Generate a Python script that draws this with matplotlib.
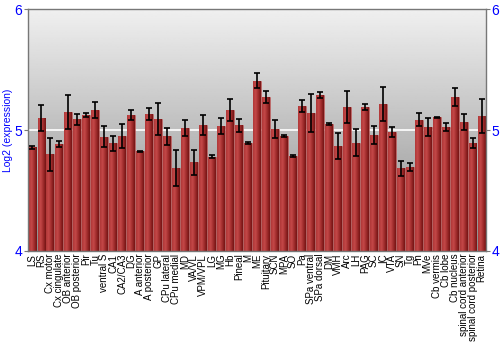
import matplotlib
matplotlib.use("Agg")
import matplotlib.pyplot as plt
import numpy as np

regions = ["LS", "RS", "Cx motor", "Cx cingulate", "OB anterior", "OB posterior",
           "Pir", "Tu", "ventral S", "CA1", "CA2/CA3", "DG", "A anterior",
           "A posterior", "GP", "CPu lateral", "CPu medial", "MD", "VA/VL",
           "VPM/VPL", "LG", "MG", "Hb", "Pineal", "M", "ME", "Pituitary", "SCN",
           "MPA", "SO", "Pa", "SPa ventral", "SPa dorsal", "DM", "VMH", "Arc",
           "LH", "PAG", "SC", "IC", "VTA", "SN", "Tg", "Pn", "MVe", "Cb vermis",
           "Cb lobe", "Cb nucleus", "spinal cord anterior",
           "spinal cord posterior", "Retina"]

expr = [4.856, 5.10, 4.80, 4.884, 5.152, 5.088, 5.127, 5.166, 4.945, 4.89,
        4.948, 5.124, 4.823, 5.133, 5.091, 4.95, 4.688, 5.014, 4.732, 5.041,
        4.779, 5.033, 5.166, 5.039, 4.892, 5.409, 5.273, 5.008, 4.948, 4.782,
        5.199, 5.138, 5.287, 5.05, 4.87, 5.19, 4.895, 5.193, 4.959, 5.218,
        4.983, 4.685, 4.693, 5.086, 5.028, 5.105, 5.022, 5.273, 5.066, 4.892,
        5.113]

err = [0.01, 0.105, 0.137, 0.022, 0.14, 0.048, 0.017, 0.066, 0.088, 0.064,
       0.098, 0.041, 0.003, 0.047, 0.131, 0.07, 0.149, 0.065, 0.1, 0.086,
       0.011, 0.07, 0.091, 0.055, 0.005, 0.065, 0.05, 0.073, 0.008, 0.008,
       0.046, 0.156, 0.026, 0.011, 0.108, 0.134, 0.113, 0.026, 0.075, 0.14,
       0.04, 0.062, 0.033, 0.054, 0.075, 0.003, 0.033, 0.077, 0.066, 0.039,
       0.141]

plt.rcParams['font.family'] = ['Liberation Sans', 'DejaVu Sans']

fig = plt.figure(figsize=(5, 3.5), dpi=100)
ax = fig.add_axes([0.056, 0.283, 0.916, 0.691])

n = len(regions)
x = np.arange(n)
ax.set_xlim(-0.5, n - 0.5)
ax.set_ylim(4, 6)

# gray gradient background
bg = np.linspace(0.94, 0.55, 256).reshape(-1, 1)
ax.imshow(bg, extent=(0, 1, 0, 1), transform=ax.transAxes, cmap='gray',
          vmin=0, vmax=1, aspect='auto', zorder=0)
ax.axhline(5, color='white', lw=1.2, zorder=1)

bars = ax.bar(x, np.array(expr) - 4, bottom=4, width=0.88, color='#a83232',
              edgecolor='#c06060', linewidth=0.4, zorder=2)

# horizontal red shading on each bar
shade = np.linspace(0, 1, 64).reshape(1, -1)
cmap = matplotlib.colors.LinearSegmentedColormap.from_list(
    'barred', ['#b03838', '#c44848', '#a02c2c', '#741414'])
for b in bars:
    im = ax.imshow(shade, extent=(b.get_x(), b.get_x() + b.get_width(), 4, b.get_height() + 4),
                   cmap=cmap, aspect='auto', zorder=2.5)
    im.set_clip_path(b)

ax.errorbar(x, expr, yerr=err, fmt='none', ecolor='black', elinewidth=1.2,
            capsize=2.5, capthick=1.2, zorder=3)

ax.set_xticks(x)
ax.set_xticklabels(regions, rotation=90, fontsize=7)
ax.tick_params(axis='x', length=0, pad=2)

ax.set_yticks([4, 5, 6])
ax.tick_params(axis='y', colors='#777777', labelcolor='blue', labelsize=10,
               length=3, direction='out', right=True, labelright=True, pad=1)
ax.set_ylabel("Log2 (expression)", color='blue', fontsize=7.5, labelpad=1)

for s in ax.spines.values():
    s.set_color('#777777')
    s.set_linewidth(1)

fig.savefig("out.png", dpi=100)
